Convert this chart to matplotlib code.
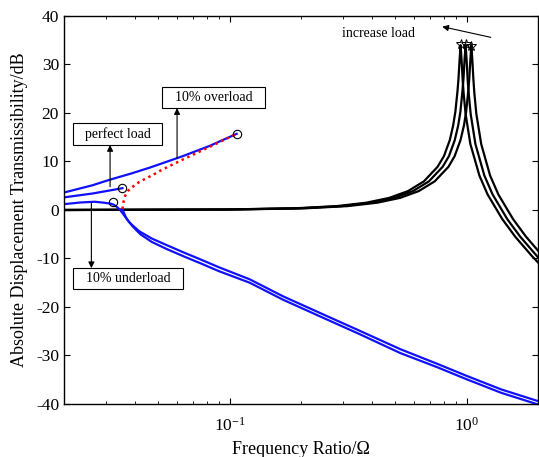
import matplotlib
matplotlib.use("Agg")
import matplotlib.pyplot as plt
from matplotlib.patches import Rectangle
from matplotlib.ticker import LogLocator, MultipleLocator, NullFormatter

plt.rcParams["font.family"] = ["Liberation Serif", "DejaVu Serif"]
plt.rcParams["mathtext.fontset"] = "custom"
plt.rcParams["mathtext.rm"] = "Liberation Serif"
plt.rcParams["axes.unicode_minus"] = False

# ---------------------------------------------------------------------------
# Data
# ---------------------------------------------------------------------------

# linear isolator, three loads (peak near 0.943, 0.99, 1.047)
lin_db = [0.0, 0.1, 0.35, 0.8, 1.5, 2.5, 3.9, 5.9, 8.9, 11.1, 14.4, 17.4, 20.2,
          24.5, 27.1, 31.0, 34.0, 30.9, 26.9, 24.1, 19.8, 13.6, 7.1, 3.2,
          -1.9, -5.5, -9.5, -11.6]
lin_f_heavy = [0.02, 0.0943, 0.189, 0.283, 0.377, 0.472, 0.566, 0.660, 0.754,
               0.802, 0.849, 0.877, 0.896, 0.915, 0.924, 0.934, 0.943, 0.952,
               0.962, 0.971, 0.990, 1.037, 1.132, 1.226, 1.415, 1.603, 1.886,
               2.075]
lin_f_mid = [0.02, 0.099, 0.198, 0.297, 0.396, 0.495, 0.594, 0.693, 0.792,
             0.842, 0.891, 0.921, 0.941, 0.960, 0.970, 0.980, 0.990, 1.000,
             1.010, 1.020, 1.040, 1.089, 1.188, 1.287, 1.485, 1.683, 1.980,
             2.178]
lin_f_light = [0.02, 0.1047, 0.209, 0.314, 0.419, 0.524, 0.628, 0.733, 0.838,
               0.890, 0.942, 0.974, 0.995, 1.016, 1.026, 1.037, 1.047, 1.057,
               1.068, 1.078, 1.099, 1.152, 1.256, 1.361, 1.571, 1.780, 2.094,
               2.303]
peak_f = [0.943, 0.990, 1.047]
peak_db = [34.3, 34.2, 33.9]

# quasi-zero-stiffness isolator, upper branches
over_f = [0.02, 0.0264, 0.031, 0.0383, 0.0458, 0.0634, 0.0822, 0.107]
over_db = [3.6, 5.1, 6.2, 7.5, 8.7, 11.1, 13.2, 15.7]
perfect_f = [0.02, 0.0264, 0.031, 0.0353]
perfect_db = [2.6, 3.4, 4.0, 4.5]
under_f = [0.02, 0.0235, 0.027, 0.0295, 0.0315, 0.0324, 0.0335, 0.0345,
           0.0355, 0.037, 0.039, 0.042, 0.047, 0.054, 0.065, 0.0746, 0.09,
           0.1216, 0.168, 0.25, 0.35, 0.525, 0.75, 1.0, 1.4, 2.0]
under_db = [1.2, 1.55, 1.7, 1.5, 1.3, 1.1, 0.6, 0.0, -0.8, -2.0, -3.4, -5.0,
            -6.6, -8.0, -9.7, -10.9, -12.6, -15.0, -18.5, -22.3, -25.5, -29.5,
            -32.4, -34.9, -37.7, -40.1]

# lower (jump-down) branch
low_f = [0.0353, 0.0358, 0.0365, 0.0375, 0.039, 0.0416, 0.047, 0.054, 0.065,
         0.0746, 0.09, 0.1216, 0.168, 0.25, 0.35, 0.525, 0.75, 1.0, 1.4, 2.0]
low_db = [0.2, -0.6, -1.5, -2.4, -3.2, -4.4, -5.9, -7.2, -8.9, -10.1, -11.8,
          -14.3, -17.8, -21.6, -24.8, -28.7, -31.7, -34.2, -37.0, -39.4]

# unstable branch (red dotted)
unst_f = [0.0353, 0.0356, 0.0362, 0.0372, 0.0383, 0.0416, 0.0473, 0.0514,
          0.0634, 0.0822, 0.107]
unst_db = [0.2, 1.5, 2.9, 3.9, 4.5, 5.8, 7.2, 8.2, 10.4, 13.0, 15.7]

# jump points (circles)
jump_f = [0.107, 0.0353, 0.0323]
jump_db = [15.7, 4.5, 1.6]

BLUE = "#1010ff"

fig = plt.figure(figsize=(5.39, 4.57), dpi=100)
ax = fig.add_axes([0.1187, 0.116, 0.8794, 0.849])

for f in (lin_f_heavy, lin_f_mid, lin_f_light):
    ax.plot(f, lin_db, color="black", lw=1.6)
ax.plot(peak_f, peak_db, ls="none", marker="*", ms=7, color="black",
        mew=0.7, mfc="none")

ax.plot(over_f, over_db, color=BLUE, lw=1.6)
ax.plot(perfect_f, perfect_db, color=BLUE, lw=1.6)
ax.plot(under_f, under_db, color=BLUE, lw=1.6)
ax.plot(low_f, low_db, color=BLUE, lw=1.6)
ax.plot(unst_f, unst_db, color="red", lw=1.8, ls=(0, (1, 1.5)))
ax.plot(jump_f, jump_db, ls="none", marker="o", ms=6, mfc="none",
        mec="black", mew=0.8)

ax.set_xscale("log")
ax.set_xlim(0.02, 2)
ax.set_ylim(-40, 40)
ax.yaxis.set_major_locator(MultipleLocator(10))
ax.xaxis.set_minor_locator(LogLocator(base=10, subs=range(2, 10)))
ax.xaxis.set_minor_formatter(NullFormatter())
ax.tick_params(which="both", direction="in", top=True, right=True,
               labelsize=12.5)
ax.tick_params(which="major", length=4, width=0.8)
ax.tick_params(which="minor", length=2.5, width=0.6)
ax.tick_params(axis="x", pad=9)
for s in ax.spines.values():
    s.set_linewidth(1.0)

ax.set_xlabel("Frequency Ratio/\u03a9", fontsize=13)
ax.set_ylabel("Absolute Displacement Transmissibility/dB", fontsize=13)
ax.xaxis.set_label_coords(0.5, -0.095)
ax.yaxis.set_label_coords(-0.076, 0.5)

# annotation boxes (axes fraction)
boxes = [
    ((0.0196, 0.6675), 0.1865, 0.056, "perfect load"),
    ((0.2061, 0.7621), 0.2180, 0.0557, "10% overload"),
    ((0.0196, 0.2964), 0.2321, 0.0533, "10% underload"),
]
for (x0, y0), w, h, label in boxes:
    ax.add_patch(Rectangle((x0, y0), w, h, transform=ax.transAxes,
                           fill=True, fc="white", ec="black", lw=0.8,
                           zorder=5))
    ax.text(x0 + w / 2, y0 + h / 2, label, transform=ax.transAxes,
            ha="center", va="center", fontsize=10, zorder=6)

arrow = dict(arrowstyle="-|>", color="black", lw=0.8, mutation_scale=9,
             shrinkA=0, shrinkB=0)
ax.annotate("", xy=(0.0313, 13.4), xytext=(0.0313, 4.8), arrowprops=arrow)
ax.annotate("", xy=(0.060, 21.0), xytext=(0.060, 10.7), arrowprops=arrow)
ax.annotate("", xy=(0.0261, -12.0), xytext=(0.0261, 1.4), arrowprops=arrow)
ax.annotate("", xy=(0.789, 37.8), xytext=(1.264, 35.6), arrowprops=arrow)
ax.text(0.4236, 36.3, "increase load", ha="center", va="center",
        fontsize=10)

fig.savefig("out.png", dpi=100)
